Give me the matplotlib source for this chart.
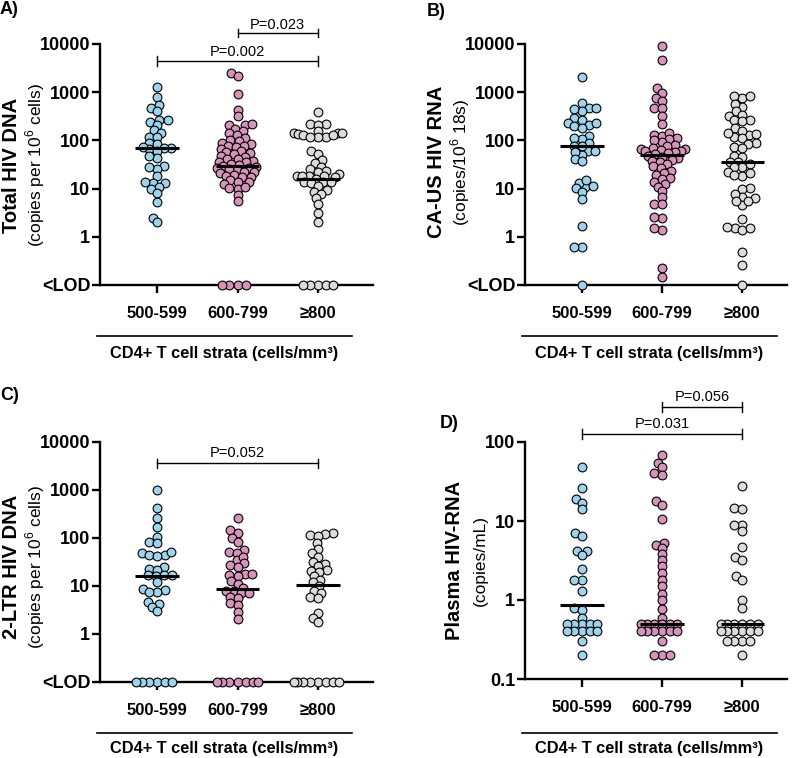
import numpy as np
import matplotlib
matplotlib.use('Agg')
import matplotlib.pyplot as plt
from matplotlib.lines import Line2D
from matplotlib.ticker import NullLocator

plt.rcParams['font.family'] = ['Liberation Sans', 'DejaVu Sans']
plt.rcParams['mathtext.fontset'] = 'custom'
plt.rcParams['mathtext.rm'] = 'Liberation Sans'
plt.rcParams['mathtext.bf'] = 'Liberation Sans:bold'

# groups and colours
strata = ['500-599', '600-799', '≥800']
colors = ['#9ed3eb', '#d694ba', '#dcdcdc']
LOD = 0.1

# A) total HIV DNA (values above LOD), points at LOD, medians
a_500 = [1310, 810, 530, 480, 400, 270, 245, 270, 210, 165, 145, 120, 115, 90, 83,
         66, 71, 70, 74, 60, 44, 48, 30, 26, 28, 18.6, 13.2, 13.8, 13.2, 11, 9.7,
         8.0, 5.2, 2.5, 2.0]
a_600 = [2500, 2120, 910, 430, 325, 204, 217, 209, 174, 158, 140, 130, 114, 100, 95,
         90, 85, 77, 77, 74, 65, 60, 56, 57, 52, 48, 46, 41.5, 41, 38, 35, 35, 33,
         31.6, 30, 28.5, 24.5, 27, 25, 22.4, 26.5, 21, 21.8, 19, 18.6, 17, 17.8, 15,
         13.8, 13.5, 12.3, 9.8, 11, 10.2, 7.4, 5.6]
a_800 = [380, 216, 216, 210, 158, 141, 141, 120, 134, 132, 117, 117, 145, 132, 61, 52,
         39, 34, 28.5, 25, 23, 22.4, 20, 18.2, 18, 18, 18, 17, 15.8, 14, 13.8, 12.9,
         13.8, 11.3, 9.3, 8.7, 7.7, 6.3, 4.9, 3.1, 2.0]
a_lod = [0, 4, 5]
a_med = [70, 30, 16]

# B) CA-US HIV RNA
b_500 = [2030, 610, 470, 480, 410, 450, 290, 260, 228, 210, 195, 180, 228, 124, 107,
         110, 87, 61, 77, 78, 61, 50, 57, 42, 37, 11, 13.2, 15, 11.5, 10.2, 8.6, 6.0,
         1.66, 0.62, 0.62]
b_600 = [9100, 4650, 1200, 970, 770, 650, 470, 460, 320, 214, 132, 122, 141, 112, 105,
         93, 100, 81, 75, 70, 64, 65, 65, 60, 60, 58, 55, 51, 47, 45, 43, 40, 38, 35,
         32, 29, 27, 23, 21, 19, 16.6, 16, 14, 12.5, 11, 8.8, 6.6, 4.8, 4.7, 2.5, 2.6,
         1.4, 1.5, 0.22, 0.15]
b_800 = [760, 840, 830, 500, 560, 325, 400, 340, 268, 268, 254, 180, 130, 120, 141,
         159, 135, 112, 87, 74, 83, 69, 48, 46, 36, 28.5, 36, 28.5, 32, 21.8, 18.6, 21,
         19, 10.2, 9.7, 6.3, 6.8, 7.9, 4.6, 5.4, 5.5, 2.3, 1.55, 1.38, 1.6, 1.55, 0.48,
         0.26]
b_lod = [1, 0, 1]
b_med = [75, 50, 35]

# C) 2-LTR HIV DNA
c_500 = [1020, 425, 256, 170, 106, 83, 78, 48, 45, 45, 52, 42, 25, 23, 22, 17, 17, 16,
         17, 12.3, 8.4, 8.7, 7.5, 7.5, 4.7, 4.3, 3.7, 3.0]
c_600 = [255, 145, 130, 100, 83, 56, 50, 48, 35, 41, 30, 28, 25, 18, 18, 17, 16, 13, 11,
         9, 8, 8, 7, 7, 6, 5.5, 4.5, 4, 2.9, 2.05]
c_800 = [130, 124, 118, 110, 78, 60, 48, 40, 32, 29, 26, 22, 21, 20, 16, 13.3, 12, 10,
         8, 7, 6, 5.5, 2.7, 2.2, 1.8]
c_lod = [6, 7, 8]
c_med = [16.5, 8.8, 10.5]

# D) plasma HIV-RNA
d_500 = [48, 26, 19, 17, 14, 7, 6.5, 4.2, 4.2, 3.7, 2.5, 1.8, 1.8, 1.3, 0.79, 0.74,
         0.6, 0.5, 0.5, 0.5, 0.5, 0.5, 0.4, 0.4, 0.4, 0.4, 0.4, 0.3, 0.2]
d_600 = [68, 55, 48, 40, 38, 18, 16, 10.7, 5.3, 5, 4.5, 3.8, 3.2, 2.7, 2.2, 1.8, 1.5,
         1.2, 1.0, 0.78, 0.6, 0.5, 0.5, 0.5, 0.5, 0.5, 0.5, 0.4, 0.4, 0.4, 0.4, 0.4,
         0.4, 0.3, 0.2, 0.2, 0.2]
d_800 = [27.5, 14.5, 14, 9, 9, 7.5, 4.7, 3.5, 3.2, 2.0, 1.8, 1.0, 0.8, 0.5, 0.5, 0.5,
         0.5, 0.5, 0.5, 0.4, 0.4, 0.4, 0.4, 0.4, 0.4, 0.3, 0.3, 0.3, 0.3, 0.2]
d_lod = [0, 0, 0]
d_med = [0.86, 0.5, 0.5]

W, H = 800, 758
fig = plt.figure(figsize=(W / 100, H / 100), dpi=100)


def fx(x):
    return x / W


def fy(y):
    return 1 - y / H


def swarm_x(ax, center, vals, dx_px=8.5, dy_px=5.5, spread=30.0):
    # beeswarm in pixel space; rows may overlap vertically and wide rows
    # are squeezed towards the centre (Prism-like)
    vals = np.asarray(vals, float)
    ypx = ax.transData.transform(np.column_stack([np.full(len(vals), center), vals]))[:, 1]
    ypx = ypx * dx_px / dy_px
    d = dx_px
    ux = ax.transData.transform([[1, 1]])[0, 0] - ax.transData.transform([[0, 1]])[0, 0]
    off = np.zeros(len(vals))
    px, py = [], []
    for i in np.argsort(ypx, kind='stable'):
        y = ypx[i]
        cands = [0.0]
        for a, b in zip(px, py):
            dy = y - b
            if abs(dy) < d:
                dx = np.sqrt(d * d - dy * dy)
                cands += [a + dx, a - dx]
        cands.sort(key=lambda c: (round(abs(c), 4), c))
        for c in cands:
            if all((c - a) ** 2 + (y - b) ** 2 >= d * d - 1e-6 for a, b in zip(px, py)):
                break
        px.append(c)
        py.append(y)
        off[i] = c
    off = spread * np.tanh(off / spread)
    return center + off / ux


def panel(box, xlim, ylim, yticks, yticklabels, groups, lods, meds):
    l, t, r, b = box
    ax = fig.add_axes([fx(l), fy(b), fx(r - l), (b - t) / H])
    ax._box = box
    ax.set_yscale('log')
    ax.set_xlim(xlim)
    ax.set_ylim(ylim)
    for k, (vals, nl, med) in enumerate(zip(groups, lods, meds)):
        allv = list(vals) + [LOD] * nl
        xs = swarm_x(ax, k, allv)
        ax.scatter(xs, allv, s=40, color=colors[k], edgecolors='black',
                   linewidths=0.8, clip_on=False, zorder=3)
        ax.plot([k - 0.27, k + 0.27], [med, med], color='black', lw=2.2,
                solid_capstyle='butt', zorder=4)
    ax.set_yticks(yticks)
    ax.set_yticklabels(yticklabels, fontweight='bold', fontsize=13)
    ax.yaxis.set_minor_locator(NullLocator())
    ax.set_xticks([0, 1, 2])
    ax.set_xticklabels(strata, fontweight='bold', fontsize=12)
    for s in ['top', 'right']:
        ax.spines[s].set_visible(False)
    for s in ['left', 'bottom']:
        ax.spines[s].set_linewidth(1.7)
    ax.tick_params(axis='y', length=6, width=1.7, pad=1)
    ax.tick_params(axis='x', length=6, width=1.7, pad=9)
    return ax


def bracket(ax, x0, x1, ypx, typx, text):
    l, t, r, b = ax._box
    ya = (b - ypx) / (b - t)
    ta = (b - typx) / (b - t)
    cap = 4.5 / (b - t)
    tr = ax.get_xaxis_transform()
    ax.plot([x0, x1], [ya, ya], transform=tr, color='black', lw=1.0, clip_on=False)
    for xx in (x0, x1):
        ax.plot([xx, xx], [ya - cap, ya + cap], transform=tr, color='black', lw=1.0,
                clip_on=False)
    ax.text((x0 + x1) / 2, ta, text, transform=tr, ha='center', va='center',
            fontsize=10.5)


def ylabel(x1, x2, yc, bold, normal):
    fig.text(fx(x1), fy(yc), bold, rotation=90, ha='center', va='center',
             fontsize=14.5, fontweight='bold')
    fig.text(fx(x2), fy(yc), normal, rotation=90, ha='center', va='center',
             fontsize=12.5)


def strata_label(x0, x1, yline, ytext):
    fig.add_artist(Line2D([fx(x0), fx(x1)], [fy(yline), fy(yline)], color='black', lw=1.2))
    fig.text(fx((x0 + x1) / 2), fy(ytext), 'CD4+ T cell strata (cells/mm³)',
             ha='center', va='center', fontsize=11.8, fontweight='bold')


dec_ticks = [0.1, 1, 10, 100, 1000, 10000]
dec_labels = ['<LOD', '1', '10', '100', '1000', '10000']

axA = panel((100, 44, 373, 285), (-0.708, 2.683), (0.1, 10000), dec_ticks, dec_labels,
            [a_500, a_600, a_800], a_lod, a_med)
axB = panel((525, 44, 787, 285), (-0.7125, 2.56), (0.1, 10000), dec_ticks, dec_labels,
            [b_500, b_600, b_800], b_lod, b_med)
axC = panel((100, 442, 373, 682), (-0.708, 2.683), (0.1, 10000), dec_ticks, dec_labels,
            [c_500, c_600, c_800], c_lod, c_med)
axD = panel((525, 442, 787, 679), (-0.7125, 2.56), (0.1, 100), [0.1, 1, 10, 100],
            ['0.1', '1', '10', '100'], [d_500, d_600, d_800], d_lod, d_med)

bracket(axA, 1, 2, 33, 25, 'P=0.023')
bracket(axA, 0, 2, 61, 52, 'P=0.002')
bracket(axC, 0, 2, 463, 453, 'P=0.052')
bracket(axD, 1, 2, 407, 397, 'P=0.056')
bracket(axD, 0, 2, 434, 424, 'P=0.031')

ylabel(12, 35, 165, 'Total HIV DNA', '(copies per 10$^6$ cells)')
ylabel(437, 460, 162, 'CA-US HIV RNA', '(copies/10$^6$ 18s)')
ylabel(12, 35, 567, '2-LTR HIV DNA', '(copies per 10$^6$ cells)')
ylabel(455, 480, 560, 'Plasma HIV-RNA', '(copies/mL)')

strata_label(97, 352, 336, 353)
strata_label(522, 777, 336, 353)
strata_label(97, 352, 733, 749)
strata_label(522, 777, 733, 749)

for lab, x, y in [('A)', 0, 10), ('B)', 427, 12), ('C)', 0, 395), ('D)', 440, 423)]:
    fig.text(fx(x), fy(y), lab, ha='left', va='center', fontsize=13, fontweight='bold')

fig.savefig('out.png', dpi=100)
